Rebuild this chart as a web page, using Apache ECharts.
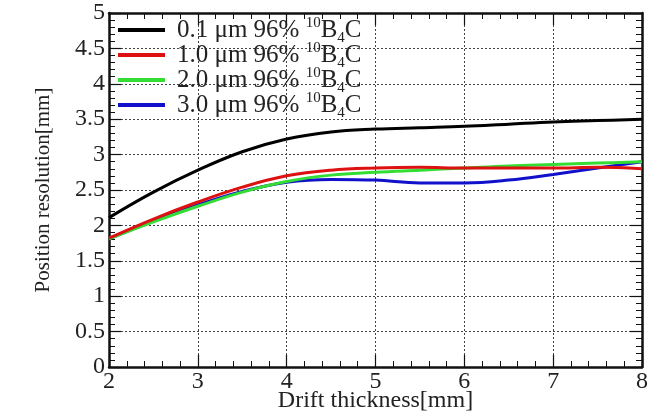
<!DOCTYPE html>
<html>
<head>
<meta charset="utf-8">
<script src="https://cdn.jsdelivr.net/npm/echarts@6/dist/echarts.min.js"></script>
<style>
  html, body { margin: 0; padding: 0; background: #fff; }
  #chart { width: 649px; height: 412px; }
</style>
</head>
<body>
<div id="chart"></div>
<script>
// Drift thickness [mm] sampled along the x axis
const driftThickness = [2, 2.5, 3, 3.5, 4, 4.5, 5, 5.5, 6, 6.5, 7, 7.5, 8];

// Position resolution [mm] for each converter thickness
const res01 = [2.11, 2.47, 2.78, 3.04, 3.22, 3.32, 3.36, 3.38, 3.40, 3.43, 3.46, 3.48, 3.50];
const res10 = [1.82, 2.09, 2.33, 2.54, 2.70, 2.78, 2.81, 2.82, 2.81, 2.81, 2.81, 2.82, 2.80];
const res20 = [1.81, 2.05, 2.27, 2.47, 2.62, 2.71, 2.75, 2.78, 2.81, 2.84, 2.86, 2.88, 2.90];
const res30 = [1.81, 2.06, 2.29, 2.48, 2.61, 2.65, 2.64, 2.60, 2.60, 2.64, 2.72, 2.81, 2.90];

const layerNames = ['0.1 μm', '1.0 μm', '2.0 μm', '3.0 μm'];
const xTicks = [2, 3, 4, 5, 6, 7, 8];
const yTicks = ['0', '0.5', '1', '1.5', '2', '2.5', '3', '3.5', '4', '4.5', '5'];

const serif = '"Liberation Serif", "DejaVu Serif", serif';
const seriesData = [res01, res10, res20, res30];
const colors = ['#000000', '#dd1111', '#33dd33', '#1111cc'];

const pairs = ys => driftThickness.map((x, i) => [x, ys[i]]);

const gridLine = { show: true, lineStyle: { color: '#444', type: [2, 2], width: 1 } };
const tick = { show: true, inside: true, length: 12, lineStyle: { color: '#111', width: 1.2 } };
const minor = { show: true, splitNumber: 5, length: 6, lineStyle: { color: '#111', width: 1 } };
const frame = { show: true, onZero: false, lineStyle: { color: '#111', width: 2.5 } };

const chart = echarts.init(document.getElementById('chart'), null, { renderer: 'canvas' });

chart.setOption({
  backgroundColor: '#ffffff',
  animation: false,
  grid: { left: 109, right: 7, top: 13, bottom: 45, containLabel: false, outerBoundsMode: 'none' },
  legend: {
    orient: 'vertical',
    left: 113,
    top: 11,
    itemWidth: 47,
    itemHeight: 4,
    itemGap: -5,
    icon: 'rect',
    data: layerNames,
    // isotope superscript and formula subscript set as rich text
    formatter: name => '{t|' + name + ' 96% }{sup|10}{t|B}{sub|4}{t|C}',
    textStyle: {
      fontFamily: serif,
      fontSize: 25,
      color: '#222',
      padding: [0, 0, 0, 7],
      rich: {
        t: { fontFamily: serif, fontSize: 25, color: '#222', lineHeight: 26, verticalAlign: 'middle' },
        sup: { fontFamily: serif, fontSize: 15, color: '#222', verticalAlign: 'top', padding: [2, 0, 0, 0] },
        sub: { fontFamily: serif, fontSize: 15, color: '#222', verticalAlign: 'bottom', padding: [17, 0, 0, 0] }
      }
    }
  },
  xAxis: [
    {
      type: 'value', min: 2, max: 8, interval: 1,
      position: 'bottom',
      axisLine: frame, axisTick: tick, minorTick: minor, splitLine: gridLine,
      axisLabel: {
        fontFamily: serif, fontSize: 24, color: '#222', margin: 3,
        formatter: v => (xTicks.includes(v) ? String(v) : '')
      },
      name: 'Drift thickness[mm]',
      nameLocation: 'middle',
      nameGap: 22,
      nameMoveOverlap: false,
      nameTextStyle: { fontFamily: serif, fontSize: 24, color: '#222' }
    },
    {
      type: 'value', min: 2, max: 8, interval: 1,
      position: 'top',
      axisLine: frame, axisTick: tick, minorTick: minor,
      splitLine: { show: false }, axisLabel: { show: false }
    }
  ],
  yAxis: [
    {
      type: 'value', min: 0, max: 5, interval: 0.5,
      position: 'left',
      axisLine: frame, axisTick: tick, minorTick: minor, splitLine: gridLine,
      axisLabel: {
        fontFamily: serif, fontSize: 24, color: '#222', margin: 4,
        formatter: (v, i) => yTicks[i]
      },
      name: 'Position resolution[mm]',
      nameLocation: 'middle',
      nameGap: 55,
      nameMoveOverlap: false,
      nameTextStyle: { fontFamily: serif, fontSize: 21, color: '#222' }
    },
    {
      type: 'value', min: 0, max: 5, interval: 0.5,
      position: 'right',
      axisLine: frame, axisTick: tick, minorTick: minor,
      splitLine: { show: false }, axisLabel: { show: false }
    }
  ],
  series: layerNames.map((name, i) => ({
    name: name,
    type: 'line',
    xAxisIndex: 0,
    yAxisIndex: 0,
    smooth: 0.4,
    symbol: 'none',
    data: pairs(seriesData[i]),
    itemStyle: { color: colors[i] },
    lineStyle: { color: colors[i], width: 3 },
    z: 5 - i
  }))
});
</script>
</body>
</html>
